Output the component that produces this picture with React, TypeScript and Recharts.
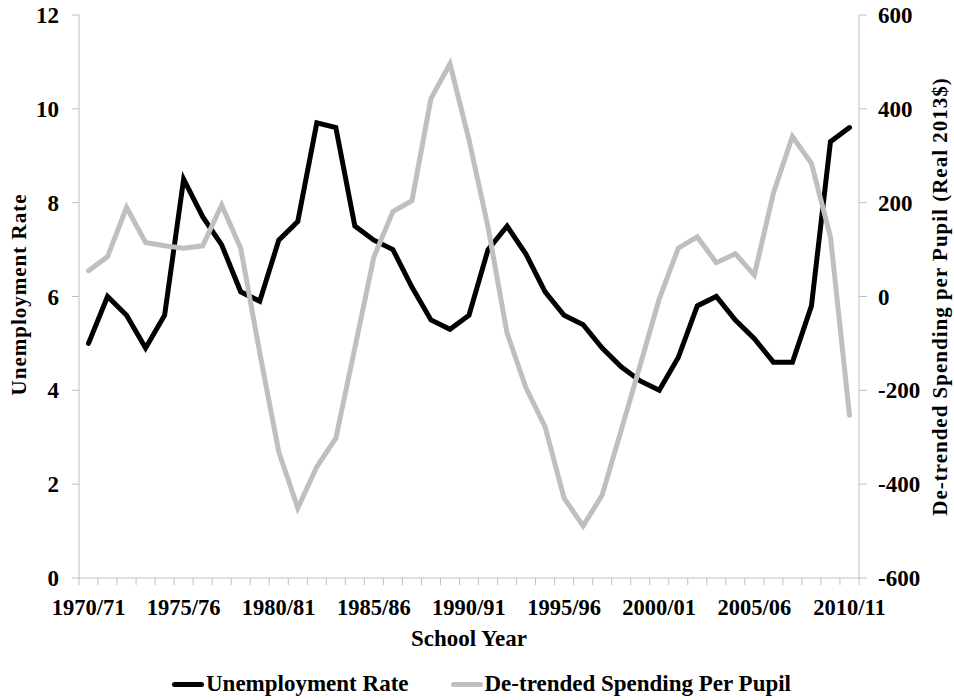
import React from 'react';
import { LineChart, Line, XAxis, YAxis, Legend } from 'recharts';

const schoolYears = [
  '1970/71', '1971/72', '1972/73', '1973/74', '1974/75', '1975/76', '1976/77', '1977/78', '1978/79', '1979/80',
  '1980/81', '1981/82', '1982/83', '1983/84', '1984/85', '1985/86', '1986/87', '1987/88', '1988/89', '1989/90',
  '1990/91', '1991/92', '1992/93', '1993/94', '1994/95', '1995/96', '1996/97', '1997/98', '1998/99', '1999/00',
  '2000/01', '2001/02', '2002/03', '2003/04', '2004/05', '2005/06', '2006/07', '2007/08', '2008/09', '2009/10',
  '2010/11',
];

const unemploymentRate = [
  5.0, 6.0, 5.6, 4.9, 5.6, 8.5, 7.7, 7.1, 6.1, 5.9,
  7.2, 7.6, 9.7, 9.6, 7.5, 7.2, 7.0, 6.2, 5.5, 5.3,
  5.6, 7.0, 7.5, 6.9, 6.1, 5.6, 5.4, 4.9, 4.5, 4.2,
  4.0, 4.7, 5.8, 6.0, 5.5, 5.1, 4.6, 4.6, 5.8, 9.3,
  9.6,
];

const spendingPerPupil = [
  55, 85, 190, 115, 108, 103, 108, 195, 103, -120,
  -331, -451, -363, -302, -110, 84, 181, 204, 422, 496,
  334, 148, -78, -195, -278, -430, -489, -423, -285, -146,
  -5, 103, 127, 72, 91, 46, 220, 341, 284, 127,
  -253,
];

const leftTicks = [0, 2, 4, 6, 8, 10, 12];
const rightTicks = [-600, -400, -200, 0, 200, 400, 600];
const labelEvery = 5;
const seriesNames = ['Unemployment Rate', 'De-trended Spending Per Pupil'];

const data = schoolYears.map((year, i) => ({
  idx: i,
  year,
  unemployment: unemploymentRate[i],
  spending: spendingPerPupil[i],
}));
const xTicks = data.map((d) => d.idx);

const W = 954;
const H = 700;
const LEFT_W = 79;
const RIGHT_W = 95;
const X_H = 122;
const BAND = (W - LEFT_W - RIGHT_W) / schoolYears.length;
const FONT = '"Liberation Serif", "Times New Roman", Times, serif';
const AXIS = '#bfbfbf';
const BLACK = '#000000';
const GRAY = '#bfbfbf';

const XTick = (props: any) => {
  const { x, y, payload } = props;
  const idx = payload.value as number;
  const half = BAND / 2;
  const isLast = idx === schoolYears.length - 1;
  return (
    <g>
      <line x1={x - half} x2={x - half} y1={y} y2={y + 7} stroke={AXIS} strokeWidth={1} />
      {isLast && <line x1={x + half} x2={x + half} y1={y} y2={y + 7} stroke={AXIS} strokeWidth={1} />}
      {idx % labelEvery === 0 && (
        <text x={x} y={y + 37} textAnchor="middle" fontFamily={FONT} fontWeight="bold" fontSize={22.5} fill="#000">
          {schoolYears[idx]}
        </text>
      )}
    </g>
  );
};

const XTitle = (props: any) => {
  const { viewBox } = props;
  return (
    <text
      x={viewBox.x + viewBox.width / 2}
      y={viewBox.y + 68}
      textAnchor="middle"
      fontFamily={FONT}
      fontWeight="bold"
      fontSize={23}
      fill="#000"
    >
      School Year
    </text>
  );
};

const LeftTitle = (props: any) => {
  const { viewBox } = props;
  const x = viewBox.x + 26;
  const y = viewBox.y + viewBox.height / 2 - 2;
  return (
    <text
      x={x}
      y={y}
      transform={`rotate(-90 ${x} ${y})`}
      textAnchor="middle"
      fontFamily={FONT}
      fontWeight="bold"
      fontSize={21}
      letterSpacing={1}
      fill="#000"
    >
      Unemployment Rate
    </text>
  );
};

const RightTitle = (props: any) => {
  const { viewBox } = props;
  const x = viewBox.x + 88;
  const y = viewBox.y + viewBox.height / 2;
  return (
    <text
      x={x}
      y={y}
      transform={`rotate(-90 ${x} ${y})`}
      textAnchor="middle"
      fontFamily={FONT}
      fontWeight="bold"
      fontSize={21}
      letterSpacing={1}
      fill="#000"
    >
      De-trended Spending per Pupil (Real 2013$)
    </text>
  );
};

const LegendContent = (props: any) => {
  const payload = [...(props.payload || [])].sort(
    (a: any, b: any) => seriesNames.indexOf(a.value) - seriesNames.indexOf(b.value)
  );
  return (
    <div
      style={{
        display: 'flex',
        alignItems: 'center',
        paddingLeft: 172,
        fontFamily: FONT,
        fontWeight: 'bold',
        fontSize: 23,
        color: '#000',
        height: 30,
        whiteSpace: 'nowrap',
      }}
    >
      {payload.map((p: any, i: number) => (
        <div key={i} style={{ display: 'flex', alignItems: 'center', marginRight: 42 }}>
          <span
            style={{
              display: 'inline-block',
              width: 32,
              height: 5,
              borderRadius: 2.5,
              background: p.color,
              marginRight: 2,
            }}
          />
          <span>{p.value}</span>
        </div>
      ))}
    </div>
  );
};

const tickStyle = { fontFamily: FONT, fontWeight: 'bold', fontSize: 23, fill: '#000' };

export default function App() {
  return (
    <div style={{ position: 'absolute', left: 0, top: 0, width: W, height: H, background: '#fff' }}>
      <LineChart width={W} height={H} data={data} margin={{ top: 15, right: 0, bottom: 0, left: 0 }}>
        <XAxis
          dataKey="idx"
          type="number"
          domain={[-0.5, schoolYears.length - 0.5]}
          ticks={xTicks}
          interval={0}
          tickSize={0}
          tickMargin={0}
          tickLine={false}
          axisLine={{ stroke: AXIS, strokeWidth: 1 }}
          height={X_H}
          tick={<XTick />}
          label={<XTitle />}
          allowDataOverflow
        />
        <YAxis
          yAxisId="left"
          domain={[0, 12]}
          ticks={leftTicks}
          interval={0}
          width={LEFT_W}
          tickSize={7}
          tickMargin={13}
          axisLine={{ stroke: AXIS, strokeWidth: 1 }}
          tickLine={{ stroke: AXIS, strokeWidth: 1 }}
          tick={tickStyle}
          label={<LeftTitle />}
        />
        <YAxis
          yAxisId="right"
          orientation="right"
          domain={[-600, 600]}
          ticks={rightTicks}
          interval={0}
          width={RIGHT_W}
          tickSize={8}
          tickMargin={11}
          axisLine={{ stroke: AXIS, strokeWidth: 1 }}
          tickLine={{ stroke: AXIS, strokeWidth: 1 }}
          tick={tickStyle}
          label={<RightTitle />}
        />
        <Legend
          layout="horizontal"
          verticalAlign="middle"
          align="center"
          wrapperStyle={{ top: 669, left: 0, width: W, height: 30 }}
          content={<LegendContent />}
        />
        <Line
          yAxisId="left"
          type="linear"
          dataKey="unemployment"
          name="Unemployment Rate"
          stroke={BLACK}
          strokeWidth={5}
          dot={false}
          activeDot={false}
          strokeLinecap="round"
          isAnimationActive={false}
        />
        <Line
          yAxisId="right"
          type="linear"
          dataKey="spending"
          name="De-trended Spending Per Pupil"
          stroke={GRAY}
          strokeWidth={5}
          dot={false}
          activeDot={false}
          strokeLinecap="round"
          isAnimationActive={false}
        />
      </LineChart>
    </div>
  );
}
